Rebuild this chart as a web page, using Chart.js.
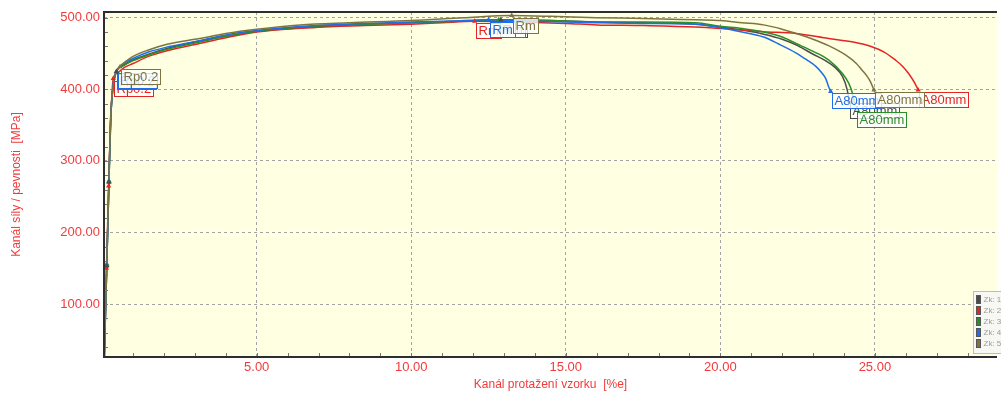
<!DOCTYPE html>
<html>
<head>
<meta charset="utf-8">
<script src="https://cdn.jsdelivr.net/npm/chart.js@4/dist/chart.umd.min.js"></script>
<style>
  html, body { margin: 0; padding: 0; background: #fff; overflow: hidden; }
</style>
</head>
<body>
<canvas id="tahovka" width="1001" height="394"></canvas>
<script>
// specimens
const seriesNames = ['Zk: 1', 'Zk: 2', 'Zk: 3', 'Zk: 4', 'Zk: 5'];
const seriesColors = ['#4b4b4b', '#e62424', '#2a8f2a', '#1f6de8', '#7d7440'];

// strain [%] / stress [MPa] for each specimen
const strainZk1 = [0.07, 0.15, 0.22, 0.27, 0.35, 0.46, 0.7, 1.0, 1.5, 2.1, 3.1, 4.0, 5.0, 6.5, 8.0, 10.0, 11.5, 12.9, 14.5, 16.0, 17.5, 19.2, 20.0, 20.8, 21.4, 22.0, 22.5, 23.0, 23.4, 23.7, 23.95, 24.1, 24.17];
const stressZk1 = [26, 153, 270, 356, 400, 425, 434, 441, 449, 457, 467, 474, 481, 486, 490, 493, 495, 497, 496, 494, 493, 491, 487, 482, 477, 470, 461, 449, 440, 431, 418, 400, 383];

const strainZk2 = [0.07, 0.14, 0.21, 0.27, 0.36, 0.5, 0.7, 1.0, 1.5, 2.1, 3.15, 4.0, 5.0, 6.9, 8.5, 10.0, 11.0, 12.05, 13.5, 15.0, 16.0, 17.5, 19.2, 20.0, 21.4, 22.45, 23.5, 24.3, 24.9, 25.3, 25.66, 25.9, 26.09, 26.3, 26.4];
const stressZk2 = [26, 150, 265, 350, 415, 423, 430, 436, 446, 454, 464, 472, 480, 486.5, 489, 491, 493, 495, 494, 492, 490, 489, 487, 485, 480.5, 478, 471, 466, 459.5, 452, 441, 432, 422, 408, 399];

const strainZk3 = [0.07, 0.15, 0.22, 0.28, 0.36, 0.46, 0.7, 1.0, 1.5, 2.1, 3.15, 4.0, 5.0, 6.9, 8.5, 10.0, 11.5, 12.83, 14.5, 16.0, 17.5, 19.2, 20.0, 20.7, 21.4, 22.0, 22.45, 23.0, 23.5, 23.95, 24.16, 24.27, 24.35, 24.4];
const stressZk3 = [26, 154, 271, 360, 405, 424, 433, 440, 448, 456, 466, 474, 481, 488, 491, 493, 495, 497, 496, 494, 494, 493, 488, 485, 480, 473, 464, 453, 441, 422, 408, 395, 380, 371];

const strainZk4 = [0.07, 0.15, 0.22, 0.28, 0.36, 0.47, 0.7, 1.0, 1.5, 2.1, 3.15, 4.0, 5.0, 6.9, 8.5, 10.0, 11.3, 12.5, 14.0, 16.0, 17.5, 19.2, 20.0, 20.7, 21.4, 21.9, 22.44, 22.8, 23.09, 23.3, 23.41, 23.5, 23.57];
const stressZk4 = [26, 155, 272, 360, 408, 425, 436, 443, 452, 459, 468, 476, 482, 489, 492, 494, 495.5, 497, 495, 493, 492, 491, 486, 480, 473, 463, 451, 441, 432, 422, 415, 404, 397];

const strainZk5 = [0.07, 0.15, 0.22, 0.28, 0.38, 0.58, 0.8, 1.0, 1.5, 2.1, 3.15, 4.0, 5.0, 6.4, 8.0, 10.0, 11.7, 13.25, 14.5, 16.0, 17.5, 19.2, 20.0, 20.7, 21.4, 22.0, 22.45, 23.0, 23.5, 24.05, 24.4, 24.58, 24.75, 24.85, 24.97];
const stressZk5 = [26, 156, 272, 362, 412, 431.5, 440, 446, 455, 463, 471, 478, 484, 490, 493, 496, 500, 503, 502, 500, 499, 497, 496, 493, 490, 484, 478, 470, 461, 448, 436, 427, 418, 411, 399];

const strains = [strainZk1, strainZk2, strainZk3, strainZk4, strainZk5];
const stresses = [stressZk1, stressZk2, stressZk3, stressZk4, stressZk5];

// evaluated points per specimen
const checkLowStrain = [0.15, 0.14, 0.15, 0.15, 0.15];
const checkLowStress = [153, 150, 154, 155, 156];
const checkHighStrain = [0.22, 0.21, 0.22, 0.22, 0.22];
const checkHighStress = [270, 265, 271, 272, 272];
const rp02Strain = [0.46, 0.36, 0.46, 0.47, 0.58];
const rp02Stress = [425, 415, 424, 425, 431.5];
const rmStrain = [12.9, 12.05, 12.83, 12.5, 13.25];
const rmStress = [497, 495, 497, 497, 503];
const a80Strain = [24.17, 26.4, 24.4, 23.57, 24.97];
const a80Stress = [383, 399, 371, 397, 399];

const xTicks = [5, 10, 15, 20, 25];
const yTicks = [100, 200, 300, 400, 500];

const axisRed = '#f23a3a';
const fontFamily = '"Liberation Sans", Arial, sans-serif';
Chart.defaults.font.family = fontFamily;

const datasets = [];
seriesNames.forEach((name, i) => {
  datasets.push({
    type: 'line',
    label: name,
    data: strains[i].map((x, k) => ({x, y: stresses[i][k]})),
    borderColor: seriesColors[i],
    borderWidth: 1.5,
    pointRadius: 0,
    fill: false,
    cubicInterpolationMode: 'monotone',
    order: 10 - i
  });
});
seriesNames.forEach((name, i) => {
  datasets.push({
    type: 'scatter',
    label: name + ' body',
    data: [
      {x: checkLowStrain[i], y: checkLowStress[i]},
      {x: checkHighStrain[i], y: checkHighStress[i]},
      {x: rp02Strain[i], y: rp02Stress[i]},
      {x: rmStrain[i], y: rmStress[i]},
      {x: a80Strain[i], y: a80Stress[i]}
    ],
    pointStyle: 'triangle',
    pointRadius: 3,
    backgroundColor: seriesColors[i],
    borderColor: seriesColors[i],
    borderWidth: 0,
    order: 0
  });
});

// yellow plot background
const plotBackground = {
  id: 'plotBackground',
  beforeDraw(chart) {
    const {ctx, chartArea: a} = chart;
    ctx.save();
    ctx.fillStyle = '#fff';
    ctx.fillRect(0, 0, chart.width, chart.height);
    ctx.fillStyle = '#ffffe1';
    ctx.fillRect(a.left, a.top, a.right - a.left, a.bottom - a.top);
    ctx.restore();
  }
};

// frame and minor ticks
const frame = {
  id: 'frame',
  afterDatasetsDraw(chart) {
    const {ctx, chartArea: a, scales: {x, y}} = chart;
    ctx.save();
    ctx.strokeStyle = '#777';
    ctx.lineWidth = 1;
    ctx.beginPath();
    for (let v = 1; v < 29; v++) {
      const px = Math.round(x.getPixelForValue(v)) + 0.5;
      ctx.moveTo(px, a.bottom);
      ctx.lineTo(px, a.bottom - 4);
    }
    for (let v = 40; v <= 500; v += 20) {
      const py = Math.round(y.getPixelForValue(v)) + 0.5;
      ctx.moveTo(a.left, py);
      ctx.lineTo(a.left + 4, py);
    }
    ctx.stroke();
    ctx.strokeStyle = '#2e2e2e';
    ctx.lineWidth = 2;
    ctx.beginPath();
    ctx.moveTo(a.right, a.top);
    ctx.lineTo(a.left, a.top);
    ctx.lineTo(a.left, a.bottom);
    ctx.lineTo(a.right, a.bottom);
    ctx.stroke();
    ctx.restore();
  }
};

// Rp0.2 / Rm / A80mm tags
const pointTags = {
  id: 'pointTags',
  afterDatasetsDraw(chart) {
    const {ctx, scales: {x, y}} = chart;
    ctx.save();
    ctx.font = '13px ' + fontFamily;
    ctx.textBaseline = 'middle';
    const tag = (text, vx, vy, color) => {
      const left = Math.round(x.getPixelForValue(vx)) + 1.5;
      const top = Math.round(y.getPixelForValue(vy)) + 2.5;
      const w = Math.ceil(ctx.measureText(text).width) + 4;
      ctx.fillStyle = 'rgba(255,255,255,0.78)';
      ctx.fillRect(left, top, w, 15);
      ctx.strokeStyle = color;
      ctx.lineWidth = 1;
      ctx.strokeRect(left, top, w, 15);
      ctx.fillStyle = color;
      ctx.fillText(text, left + 2, top + 8);
    };
    seriesNames.forEach((name, i) => {
      tag('Rp0.2', rp02Strain[i], rp02Stress[i], seriesColors[i]);
      tag('Rm', rmStrain[i], rmStress[i], seriesColors[i]);
      tag('A80mm', a80Strain[i], a80Stress[i], seriesColors[i]);
    });
    ctx.restore();
  }
};

// small specimen legend in the lower right corner
const specimenLegend = {
  id: 'specimenLegend',
  afterDraw(chart) {
    const {ctx} = chart;
    const left = 973.5, top = 291.5;
    ctx.save();
    ctx.fillStyle = '#f7f7f4';
    ctx.fillRect(left, top, 40, 62);
    ctx.strokeStyle = '#bdbdbd';
    ctx.lineWidth = 1;
    ctx.strokeRect(left, top, 40, 62);
    ctx.font = '8px ' + fontFamily;
    ctx.textBaseline = 'middle';
    seriesNames.forEach((name, i) => {
      const cy = top + 8 + i * 11;
      ctx.fillStyle = seriesColors[i];
      ctx.fillRect(left + 3, cy - 4, 4, 8);
      ctx.strokeStyle = '#555';
      ctx.strokeRect(left + 3, cy - 4, 4, 8);
      ctx.fillStyle = '#9a9a9a';
      ctx.fillText(name, left + 10, cy);
    });
    ctx.restore();
  }
};

new Chart(document.getElementById('tahovka'), {
  type: 'line',
  data: {datasets},
  options: {
    responsive: false,
    animation: false,
    parsing: true,
    layout: {padding: {top: 12, right: 0, left: 0, bottom: 0}},
    plugins: {legend: {display: false}, tooltip: {enabled: false}},
    scales: {
      x: {
        type: 'linear',
        min: 0.06,
        max: 28.95,
        afterBuildTicks: s => { s.ticks = xTicks.map(v => ({value: v})); },
        afterFit: s => { s.height = 37; },
        ticks: {
          color: axisRed,
          font: {size: 13},
          padding: 3,
          maxRotation: 0,
          autoSkip: false,
          callback: v => v.toFixed(2)
        },
        grid: {color: '#a3a3a3', lineWidth: 1, drawTicks: false},
        border: {display: false, dash: [3, 3]},
        title: {
          display: true,
          text: 'Kanál protažení vzorku  [%e]',
          color: axisRed,
          font: {size: 12},
          padding: {top: 0, bottom: 2}
        }
      },
      y: {
        type: 'linear',
        min: 26,
        max: 508,
        afterBuildTicks: s => { s.ticks = yTicks.map(v => ({value: v})); },
        afterFit: s => { s.width = 104; },
        ticks: {
          color: axisRed,
          font: {size: 13},
          padding: 4,
          callback: v => v.toFixed(2)
        },
        grid: {color: '#a3a3a3', lineWidth: 1, drawTicks: false},
        border: {display: false, dash: [3, 3]},
        title: {
          display: true,
          text: 'Kanál síly / pevnosti  [MPa]',
          color: axisRed,
          font: {size: 12},
          padding: {top: 9, bottom: 0}
        }
      }
    }
  },
  plugins: [plotBackground, frame, pointTags, specimenLegend]
});
</script>
</body>
</html>
